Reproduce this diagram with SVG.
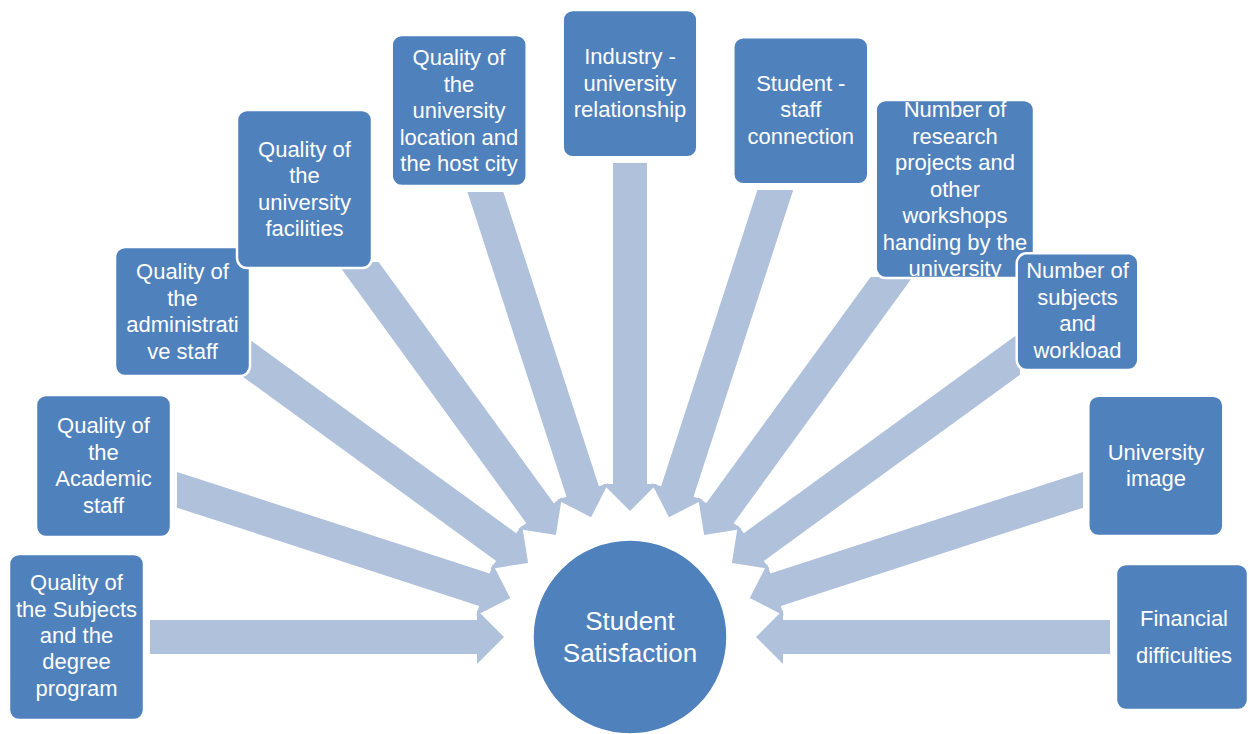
<svg xmlns="http://www.w3.org/2000/svg" width="1249" height="734" viewBox="0 0 1249 734">
<style>
.arrow{fill:#B0C1DC;stroke:none}
.box{fill:#4F81BD;stroke:#FFFFFF;stroke-width:2.5}
.t{font-family:"Liberation Sans",Arial,sans-serif;font-size:22px;fill:#FFFFFF;text-anchor:middle}
.big{font-size:26px}
</style>
<defs>
<clipPath id="clipResearch"><rect x="875.7" y="100" width="158.3" height="178" rx="10"/></clipPath>
</defs>
<rect width="1249" height="734" fill="#FFFFFF"/>
<g id="connectors">
<polygon class="arrow" points="504,637 477,610 477,620 150,620 150,654 477,654 477,664"/>
<polygon class="arrow" points="510.2,598.1 476.2,615.4 479.2,605.9 177,507.7 177,471.9 489.7,573.5 492.8,564"/>
<polygon class="arrow" points="528.1,562.9 490.3,568.9 496.2,560.9 240,374.7 240,332.6 516.2,533.3 522.1,525.2"/>
<polygon class="arrow" points="555.9,535.1 518.3,529.1 526.3,523.2 336.5,262 378.6,262 553.8,503.2 561.9,497.3"/>
<polygon class="arrow" points="591.1,517.2 557,499.8 566.5,496.8 467.5,192 503.3,192 598.9,486.3 608.4,483.2"/>
<polygon class="arrow" points="630,511 603,484 613,484 613,163 647,163 647,484 657,484"/>
<polygon class="arrow" points="668.9,517.2 703,499.8 693.5,496.8 793.2,190 757.4,190 661.1,486.3 651.6,483.2"/>
<polygon class="arrow" points="704.1,535.1 741.7,529.1 733.7,523.2 912.6,277 870.6,277 706.2,503.2 698.1,497.3"/>
<polygon class="arrow" points="731.9,562.9 769.7,568.9 763.8,560.9 1020,374.7 1020,332.6 743.8,533.3 737.9,525.2"/>
<polygon class="arrow" points="749.8,598.1 783.8,615.4 780.8,605.9 1083,507.7 1083,471.9 770.3,573.5 767.2,564"/>
<polygon class="arrow" points="756,637 783,610 783,620 1110,620 1110,654 783,654 783,664"/>
</g>
<g id="n-subjects">
<rect class="box" x="9" y="554" width="135" height="166" rx="10"/>
<text class="t"><tspan x="76.5" y="590">Quality of</tspan><tspan x="76.5" y="617">the Subjects</tspan><tspan x="76.5" y="643">and the</tspan><tspan x="76.5" y="669">degree</tspan><tspan x="76.5" y="696">program</tspan></text>
</g>
<g id="n-academic">
<rect class="box" x="36" y="395" width="135" height="142" rx="10"/>
<text class="t"><tspan x="103.5" y="433">Quality of</tspan><tspan x="103.5" y="459.5">the</tspan><tspan x="103.5" y="486">Academic</tspan><tspan x="103.5" y="512.5">staff</tspan></text>
</g>
<g id="n-admin">
<rect class="box" x="115" y="247" width="135" height="129" rx="10"/>
<text class="t"><tspan x="182.5" y="279">Quality of</tspan><tspan x="182.5" y="305.5">the</tspan><tspan x="182.5" y="332">administrati</tspan><tspan x="182.5" y="358.5">ve staff</tspan></text>
</g>
<g id="n-facilities">
<rect class="box" x="237" y="110" width="135" height="158" rx="10"/>
<text class="t"><tspan x="304.5" y="156.5">Quality of</tspan><tspan x="304.5" y="183">the</tspan><tspan x="304.5" y="209.5">university</tspan><tspan x="304.5" y="236">facilities</tspan></text>
</g>
<g id="n-location">
<rect class="box" x="391.7" y="35" width="135" height="151" rx="10"/>
<text class="t"><tspan x="459" y="65">Quality of</tspan><tspan x="459" y="91.5">the</tspan><tspan x="459" y="118">university</tspan><tspan x="459" y="144.5">location and</tspan><tspan x="459" y="171">the host city</tspan></text>
</g>
<g id="n-industry">
<rect class="box" x="562.7" y="10" width="134.6" height="147.3" rx="10"/>
<text class="t"><tspan x="630" y="64.3">Industry -</tspan><tspan x="630" y="90.8">university</tspan><tspan x="630" y="117.3">relationship</tspan></text>
</g>
<g id="n-studentstaff">
<rect class="box" x="733.3" y="37.3" width="135" height="147" rx="10"/>
<text class="t"><tspan x="800.8" y="90.7">Student -</tspan><tspan x="800.8" y="117.2">staff</tspan><tspan x="800.8" y="143.7">connection</tspan></text>
</g>
<g id="n-research">
<rect class="box" x="875.7" y="100" width="158.3" height="178" rx="10"/>
<text class="t" clip-path="url(#clipResearch)"><tspan x="955" y="117">Number of</tspan><tspan x="955" y="143.5">research</tspan><tspan x="955" y="170">projects and</tspan><tspan x="955" y="196.5">other</tspan><tspan x="955" y="223">workshops</tspan><tspan x="955" y="249.5">handing by the</tspan><tspan x="955" y="276">university</tspan></text>
</g>
<g id="n-workload">
<rect class="box" x="1016.7" y="253.3" width="121.6" height="116.7" rx="10"/>
<text class="t"><tspan x="1077.5" y="278">Number of</tspan><tspan x="1077.5" y="304.5">subjects</tspan><tspan x="1077.5" y="331">and</tspan><tspan x="1077.5" y="357.5">workload</tspan></text>
</g>
<g id="n-image">
<rect class="box" x="1088.3" y="395.7" width="135" height="140.3" rx="10"/>
<text class="t"><tspan x="1156" y="460">University</tspan><tspan x="1156" y="486">image</tspan></text>
</g>
<g id="n-financial">
<rect class="box" x="1116" y="564" width="132" height="146" rx="10"/>
<text class="t"><tspan x="1184" y="626">Financial</tspan><tspan x="1184" y="663">difficulties</tspan></text>
</g>
<g id="n-center">
<circle class="box" cx="630" cy="637" r="97.5"/>
<text class="t big"><tspan x="630" y="630">Student</tspan><tspan x="630" y="661.7">Satisfaction</tspan></text>
</g>
</svg>
